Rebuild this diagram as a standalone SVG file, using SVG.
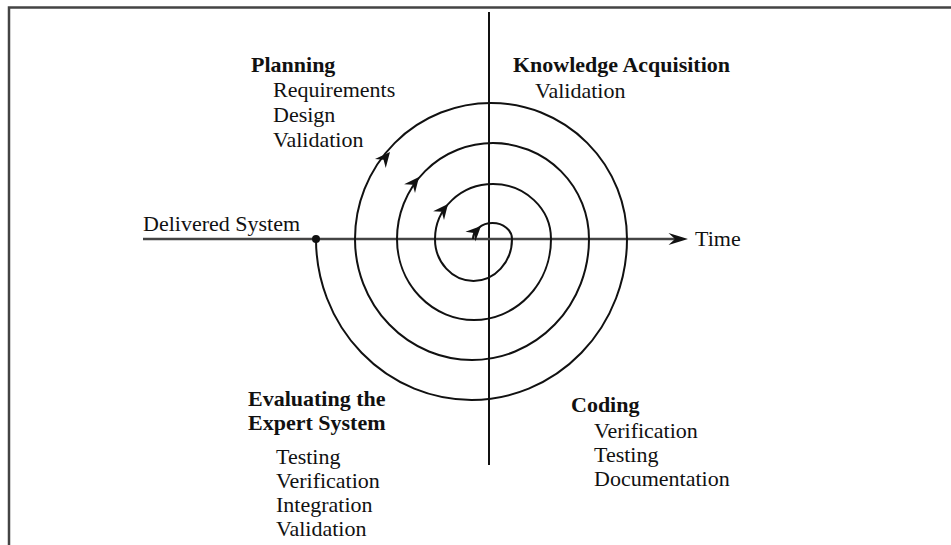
<svg xmlns="http://www.w3.org/2000/svg" width="951" height="545" viewBox="0 0 951 545">
<style>
.t{font-family:"Liberation Serif","Times New Roman",serif;font-size:22px;fill:#111}
.b{font-weight:bold}
.ln{fill:none;stroke:#111;stroke-width:2}
.ah{fill:#111;stroke:none}
</style>
<defs>
<polygon id="head" points="0,0 -15,-7 -10,0 -15,7"/>
</defs>
<rect width="951" height="545" fill="#fff"/>
<g id="frame">
<path d="M9 545 V7.5 H951" fill="none" stroke="#444" stroke-width="2.5"/>
</g>
<g id="connectors">
<line x1="489" y1="12" x2="489" y2="465" class="ln"/>
<line x1="143" y1="239" x2="675" y2="239" stroke="#444" stroke-width="2.5"/>
<use href="#head" class="ah" transform="translate(688,239) scale(1.3,0.85)"/>
<path id="spiral" class="ln" d="M473 239 A19.5 16 0 0 1 512 239 A38.5 42 0 0 1 435 239 A58 55 0 0 1 551 239 A77 81 0 0 1 397 239 A96 96 0 0 1 589 239 A117 121 0 0 1 355 239 A136 136 0 0 1 627 239 A155.5 161 0 0 1 316 239"/>
<use href="#head" class="ah" transform="translate(481,226) rotate(-45)"/>
<use href="#head" class="ah" transform="translate(448,204) rotate(-51)"/>
<use href="#head" class="ah" transform="translate(419,177) rotate(-51)"/>
<use href="#head" class="ah" transform="translate(390,152) rotate(-50)"/>
<circle cx="316" cy="239" r="4" fill="#111"/>
</g>
<g id="planning">
<text class="t b" x="251" y="72">Planning</text>
<text class="t" x="273" y="97">Requirements</text>
<text class="t" x="273" y="122">Design</text>
<text class="t" x="273" y="147">Validation</text>
</g>
<g id="knowledge">
<text class="t b" x="513" y="72">Knowledge Acquisition</text>
<text class="t" x="535" y="98">Validation</text>
</g>
<g id="delivered">
<text class="t" x="143" y="231">Delivered System</text>
</g>
<g id="time">
<text class="t" x="695" y="246">Time</text>
</g>
<g id="evaluating">
<text class="t b" x="248" y="406">Evaluating the</text>
<text class="t b" x="248" y="430">Expert System</text>
<text class="t" x="276" y="464">Testing</text>
<text class="t" x="276" y="488">Verification</text>
<text class="t" x="276" y="512">Integration</text>
<text class="t" x="276" y="536">Validation</text>
</g>
<g id="coding">
<text class="t b" x="571" y="412">Coding</text>
<text class="t" x="594" y="438">Verification</text>
<text class="t" x="594" y="462">Testing</text>
<text class="t" x="594" y="486">Documentation</text>
</g>
</svg>
